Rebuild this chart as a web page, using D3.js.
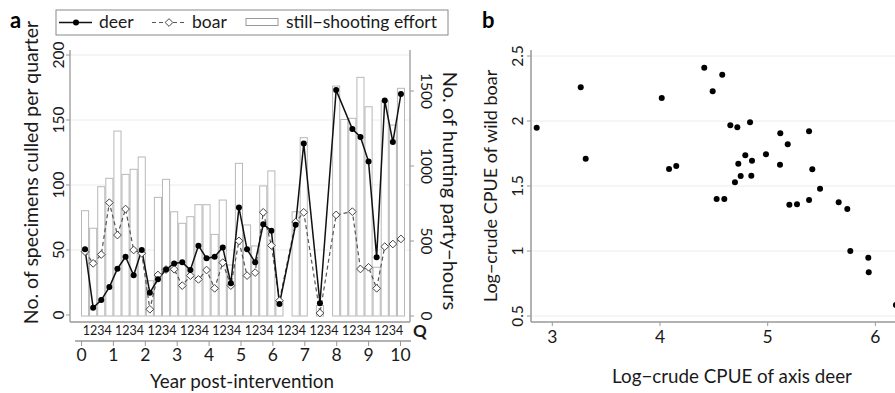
<!DOCTYPE html>
<html>
<head>
<meta charset="utf-8">
<script src="https://cdn.jsdelivr.net/npm/d3@7/dist/d3.min.js"></script>
<style>
  html, body { margin: 0; padding: 0; background: #fff; }
  svg { display: block; font-family: Lato, "Open Sans", sans-serif; }
</style>
</head>
<body>
<svg id="chart" width="895" height="393"></svg>
<script>
// Panel a: culls per quarter (deer, boar) and still-shooting effort, 40 quarters.
const yearTicks = [0, 1, 2, 3, 4, 5, 6, 7, 8, 9, 10];
const quarterGroup = "1234";
const deerCulled = [50.5, 5.6, 11.5, 21.5, 35.6, 44.8, 30.5, 50, 17.2, 27.5,
  35, 39.7, 40.5, 34.6, 53.3, 43.6, 44.8, 52, 24.4, 82.6,
  50.5, 40.5, 69.8, 64.8, 8.5, null, 69.5, 132, null, 9,
  null, 173, null, 143, 137, 118, 44.5, 165, 133, 170];
const boarCulled = [48.7, 39.7, 46.5, 86.4, 61.5, 81.5, 50, 47.5, 4.4, 30.8,
  35, 35.2, 22.6, 30.3, 27.4, 34.6, 20.5, 40.3, 22.6, 57,
  30.3, 32.6, 79, 53.5, 11, null, 71.5, 79, null, 1.5,
  null, 77, null, 79.5, 35.4, 36.7, 20.5, 52.6, 54.6, 58.5];
const effortHours = [702, 585, 862, 918, 1233, 944, 978, 1060, 235, 791,
  911, 695, 618, 662, 742, 742, 544, 773, 340, 1018,
  607, 467, 867, 967, 100, null, 695, 1189, null, 70,
  null, 1533, 1310, 1318, 1591, 1395, 325, 1435, 1273, 1518];
const leftTicks = [0, 50, 100, 150, 200];
const rightTicks = [0, 500, 1000, 1500];

// Panel b: log crude CPUE, axis deer vs wild boar.
const cpueDeer = [2.855, 3.264, 3.31, 4.016, 4.084, 4.151, 4.411, 4.489, 4.578, 4.653,
  4.718, 4.836, 4.727, 4.792, 4.854, 4.696, 4.749, 4.848, 4.984, 5.117,
  5.186, 5.114, 5.384, 5.414, 5.486, 4.526, 4.597, 5.201, 5.272, 5.384,
  5.659, 5.739, 5.767, 5.934, 5.938, 6.19];
const cpueBoar = [1.948, 2.259, 1.71, 2.177, 1.631, 1.654, 2.41, 2.228, 2.356, 1.967,
  1.952, 1.99, 1.672, 1.736, 1.695, 1.528, 1.577, 1.579, 1.744, 1.905,
  1.821, 1.664, 1.921, 1.628, 1.479, 1.4, 1.4, 1.356, 1.359, 1.392,
  1.375, 1.323, 1.0, 0.948, 0.836, 0.585];
const bXTicks = [3, 4, 5, 6];
const bYTicks = [0.5, 1, 1.5, 2, 2.5];

const svg = d3.select("#chart");
const AXIS = "#999";
const GRID = "#ececec";
const INK = "#1a1a1a";

// ---------- panel a ----------
const idx = d3.range(deerCulled.length);
const x = d3.scaleBand().domain(idx).range([81, 405]).padding(0);
const xYear = d3.scaleLinear().domain([0, 10]).range([81, 400]);
const yL = d3.scaleLinear().domain([0, 200]).range([315, 55]);
const yR = d3.scaleLinear().domain([0, 1500]).range([316, 91]);
const cx = i => x(i) + x.bandwidth() / 2;

const ga = svg.append("g");

ga.append("g").selectAll("line").data(leftTicks.slice(1)).join("line")
  .attr("x1", 70).attr("x2", 410)
  .attr("y1", d => yL(d)).attr("y2", d => yL(d))
  .attr("stroke", GRID).attr("stroke-width", 1);

ga.append("g").selectAll("rect")
  .data(idx.filter(i => effortHours[i] != null)).join("rect")
  .attr("x", i => x(i) + 0.5)
  .attr("y", i => yR(effortHours[i]))
  .attr("width", x.bandwidth() - 1)
  .attr("height", i => yR(0) - yR(effortHours[i]))
  .attr("fill", "#fff").attr("stroke", "#b8b8b8").attr("stroke-width", 1);

const boarPts = idx.filter(i => boarCulled[i] != null);
const deerPts = idx.filter(i => deerCulled[i] != null);

ga.append("path").datum(boarPts)
  .attr("fill", "none").attr("stroke", "#555").attr("stroke-width", 1.2)
  .attr("stroke-dasharray", "4,3")
  .attr("d", d3.line().x(cx).y(i => yL(boarCulled[i])));

ga.append("path").datum(deerPts)
  .attr("fill", "none").attr("stroke", "#111").attr("stroke-width", 1.5)
  .attr("d", d3.line().x(cx).y(i => yL(deerCulled[i])));

const diamond = d3.symbol().type(d3.symbolDiamond2).size(38);
ga.append("g").selectAll("path").data(boarPts).join("path")
  .attr("d", diamond)
  .attr("transform", i => `translate(${cx(i)},${yL(boarCulled[i])})`)
  .attr("fill", "#fff").attr("stroke", "#444").attr("stroke-width", 1);

ga.append("g").selectAll("circle").data(deerPts).join("circle")
  .attr("cx", cx).attr("cy", i => yL(deerCulled[i])).attr("r", 3)
  .attr("fill", "#000");

// frame: left, right, bottom
ga.append("line").attr("x1", 70).attr("x2", 70).attr("y1", 50).attr("y2", 322)
  .attr("stroke", AXIS).attr("stroke-width", 1.3);
ga.append("line").attr("x1", 410).attr("x2", 410).attr("y1", 50).attr("y2", 322)
  .attr("stroke", AXIS).attr("stroke-width", 1.3);
ga.append("line").attr("x1", 70).attr("x2", 410).attr("y1", 322).attr("y2", 322)
  .attr("stroke", AXIS).attr("stroke-width", 1.3);

// left ticks
ga.append("g").selectAll("line").data(leftTicks).join("line")
  .attr("x1", 66).attr("x2", 70).attr("y1", d => yL(d)).attr("y2", d => yL(d))
  .attr("stroke", AXIS);
ga.append("g").selectAll("text").data(leftTicks).join("text")
  .attr("transform", d => `translate(64,${yL(d)}) rotate(-90)`)
  .attr("text-anchor", "middle").attr("font-size", 15.5).attr("fill", INK)
  .text(d => d);

// right ticks
ga.append("g").selectAll("line").data(rightTicks).join("line")
  .attr("x1", 410).attr("x2", 414).attr("y1", d => yR(d)).attr("y2", d => yR(d))
  .attr("stroke", AXIS);
ga.append("g").selectAll("text").data(rightTicks).join("text")
  .attr("transform", d => `translate(421,${yR(d)}) rotate(90)`)
  .attr("text-anchor", "middle").attr("font-size", 15.5).attr("fill", INK)
  .text(d => d);

// quarter labels
ga.append("g").selectAll("text").data(d3.range(10)).join("text")
  .attr("x", g => (x(g * 4) + x(g * 4 + 3) + x.bandwidth()) / 2)
  .attr("y", 335)
  .attr("text-anchor", "middle").attr("font-size", 12.5).attr("fill", INK)
  .text(quarterGroup);
ga.append("text").attr("x", 413).attr("y", 337)
  .attr("font-size", 17).attr("font-weight", 700).attr("fill", INK).text("Q");

// year axis
ga.append("g").attr("transform", "translate(0,341)")
  .call(d3.axisBottom(xYear).tickValues(yearTicks).tickSize(5).tickPadding(3).tickFormat(d3.format("d")))
  .call(g => g.select(".domain").attr("d", "M75,0H411").attr("stroke", AXIS).attr("stroke-width", 1.3))
  .call(g => g.selectAll(".tick line").attr("stroke", AXIS))
  .call(g => g.selectAll(".tick text").attr("font-size", 17.5).attr("fill", INK)
    .attr("font-family", "Lato, 'Open Sans', sans-serif"));

ga.append("text").attr("x", 242).attr("y", 388).attr("text-anchor", "middle")
  .attr("font-size", 18.8).attr("fill", INK).text("Year post-intervention");

ga.append("text").attr("transform", "translate(38,172.5) rotate(-90)")
  .attr("text-anchor", "middle").attr("font-size", 19.5).attr("fill", INK)
  .text("No. of specimens culled per quarter");
ga.append("text").attr("transform", "translate(443,191) rotate(90)")
  .attr("text-anchor", "middle").attr("font-size", 20).attr("fill", INK)
  .text("No. of hunting party\u2212hours");

ga.append("text").attr("x", 10).attr("y", 28)
  .attr("font-size", 22).attr("font-weight", 700).attr("fill", "#000").text("a");

// legend
const lg = ga.append("g");
lg.append("rect").attr("x", 56).attr("y", 10).attr("width", 392).attr("height", 25)
  .attr("fill", "#fff").attr("stroke", "#888").attr("stroke-width", 1);
lg.append("line").attr("x1", 59).attr("x2", 92).attr("y1", 22.5).attr("y2", 22.5)
  .attr("stroke", "#111").attr("stroke-width", 1.5);
lg.append("circle").attr("cx", 76).attr("cy", 22.5).attr("r", 3).attr("fill", "#000");
lg.append("text").attr("x", 99).attr("y", 28).attr("font-size", 17.5).attr("fill", INK).text("deer");
lg.append("line").attr("x1", 152).attr("x2", 184).attr("y1", 22.5).attr("y2", 22.5)
  .attr("stroke", "#555").attr("stroke-width", 1.2).attr("stroke-dasharray", "4,3");
lg.append("path").attr("d", diamond).attr("transform", "translate(169,22.5)")
  .attr("fill", "#fff").attr("stroke", "#444");
lg.append("text").attr("x", 192).attr("y", 28).attr("font-size", 17.5).attr("fill", INK).text("boar");
lg.append("rect").attr("x", 246).attr("y", 18.5).attr("width", 32).attr("height", 7)
  .attr("fill", "#fff").attr("stroke", "#999");
lg.append("text").attr("x", 286).attr("y", 28).attr("font-size", 17.5).attr("fill", INK)
  .text("still\u2212shooting effort");

// ---------- panel b ----------
const bx = d3.scaleLinear().domain([3, 6]).range([552.3, 875.4]);
const by = d3.scaleLinear().domain([0.5, 2.5]).range([316, 56]);
const gb = svg.append("g");

gb.append("g").selectAll("line").data(bYTicks).join("line")
  .attr("x1", 531).attr("x2", 895).attr("y1", d => by(d)).attr("y2", d => by(d))
  .attr("stroke", GRID);

gb.append("line").attr("x1", 531).attr("x2", 531).attr("y1", 50).attr("y2", 322)
  .attr("stroke", AXIS).attr("stroke-width", 1.5);
gb.append("line").attr("x1", 531).attr("x2", 895).attr("y1", 322).attr("y2", 322)
  .attr("stroke", AXIS).attr("stroke-width", 1.5);

gb.append("g").selectAll("line").data(bYTicks).join("line")
  .attr("x1", 527).attr("x2", 531).attr("y1", d => by(d)).attr("y2", d => by(d))
  .attr("stroke", AXIS);
gb.append("g").selectAll("text").data(bYTicks).join("text")
  .attr("transform", d => `translate(523,${by(d)}) rotate(-90)`)
  .attr("text-anchor", "middle").attr("font-size", 15.5).attr("fill", INK)
  .text(d => d);

gb.append("g").selectAll("line").data(bXTicks).join("line")
  .attr("x1", d => bx(d)).attr("x2", d => bx(d)).attr("y1", 322).attr("y2", 326)
  .attr("stroke", AXIS);
gb.append("g").selectAll("text").data(bXTicks).join("text")
  .attr("x", d => bx(d)).attr("y", 343)
  .attr("text-anchor", "middle").attr("font-size", 17.5).attr("fill", INK)
  .text(d => d);

gb.append("g").selectAll("circle").data(cpueDeer).join("circle")
  .attr("cx", d => bx(d)).attr("cy", (d, i) => by(cpueBoar[i])).attr("r", 3)
  .attr("fill", "#000");

gb.append("text").attr("x", 732).attr("y", 383).attr("text-anchor", "middle")
  .attr("font-size", 18.8).attr("fill", INK).text("Log\u2212crude CPUE of axis deer");
gb.append("text").attr("transform", "translate(497,186) rotate(-90)")
  .attr("text-anchor", "middle").attr("font-size", 18).attr("fill", INK)
  .text("Log\u2212crude CPUE of wild boar");

gb.append("text").attr("x", 482).attr("y", 28)
  .attr("font-size", 22).attr("font-weight", 700).attr("fill", "#000").text("b");
</script>
</body>
</html>
